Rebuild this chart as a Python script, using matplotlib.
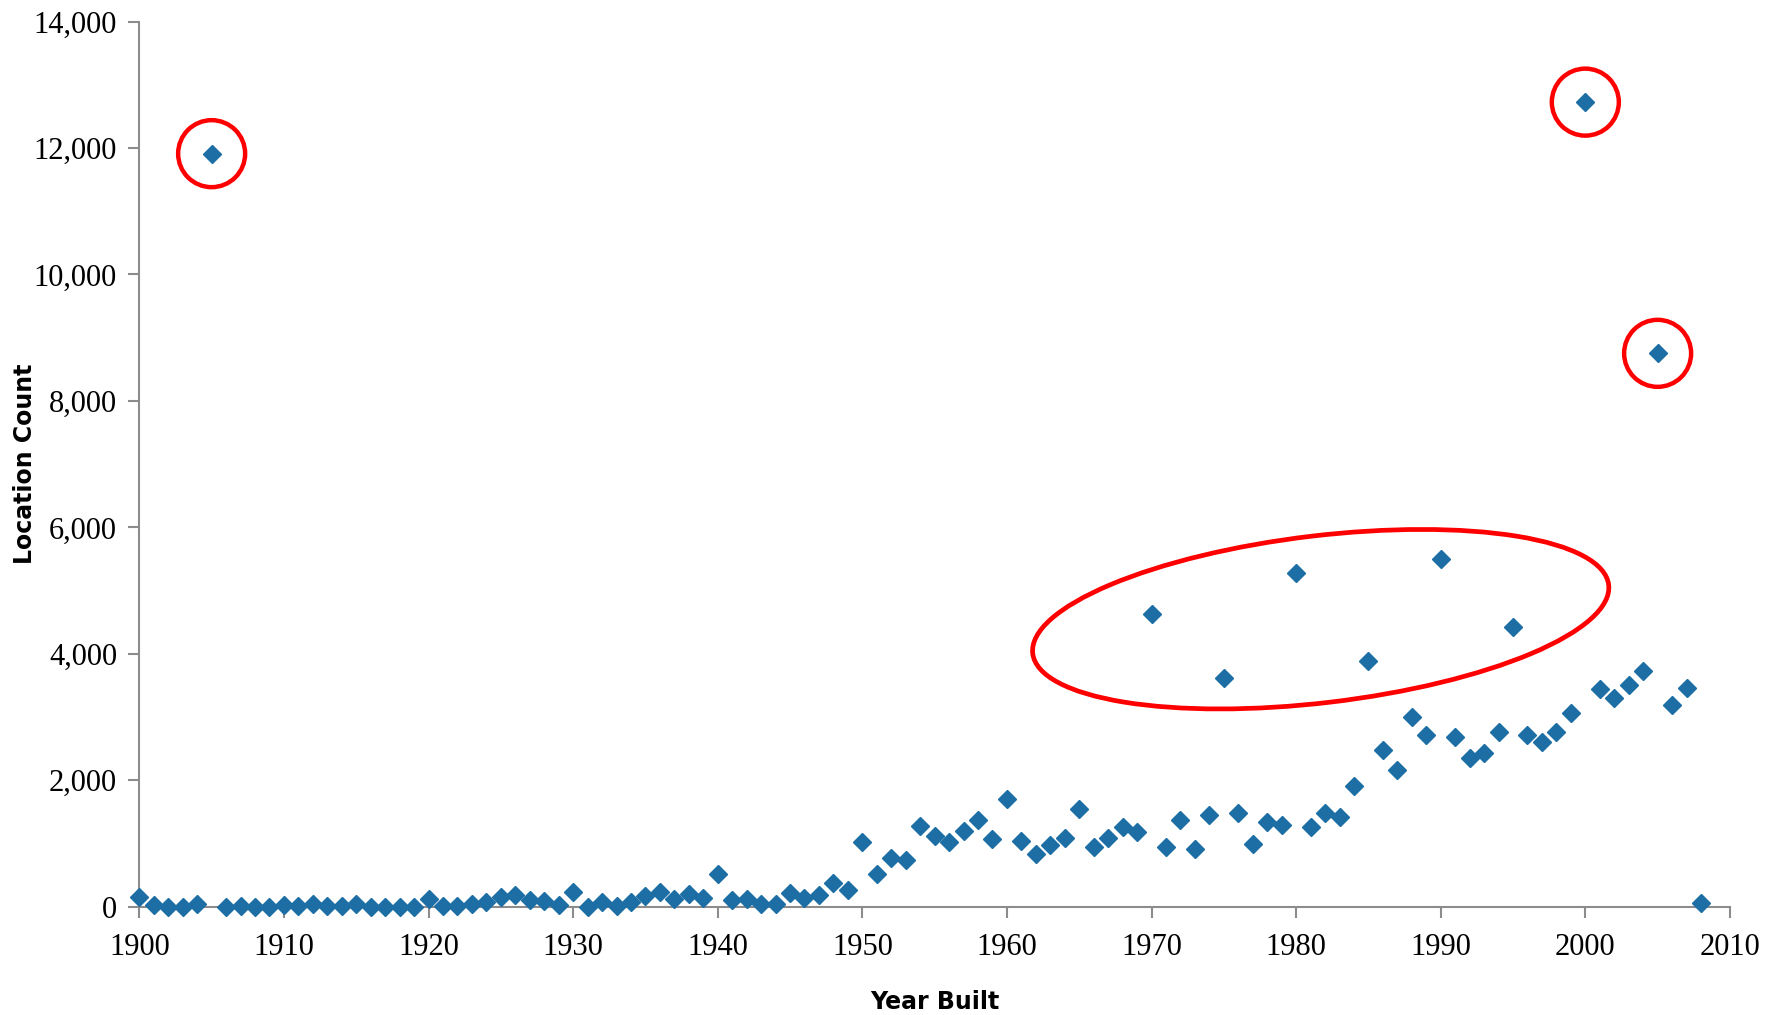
import numpy as np
import matplotlib
matplotlib.use("Agg")
import matplotlib.pyplot as plt
from matplotlib.patches import Ellipse, Circle
from matplotlib.transforms import ScaledTranslation
from matplotlib.ticker import FuncFormatter

# location counts per year built
years = np.arange(1900, 2009)
counts = [
    150, 20, 0, 0, 40, 11910, 0, 15, 0, 0,          # 1900-1909
    25, 10, 40, 10, 10, 40, 0, 0, 0, 0,             # 1910-1919
    120, 15, 15, 40, 70, 150, 185, 105, 95, 20,     # 1920-1929
    235, 0, 80, 15, 75, 170, 232, 116, 206, 132,    # 1930-1939
    522, 100, 116, 47, 37, 211, 132, 185, 369, 258, # 1940-1949
    1023, 511, 775, 733, 1276, 1118, 1028, 1197, 1376, 1075,   # 1950-1959
    1708, 1038, 838, 970, 1081, 1545, 940, 1086, 1265, 1186,   # 1960-1969
    4637, 938, 1376, 907, 1455, 3616, 1481, 991, 1344, 1297,   # 1970-1979
    5271, 1265, 1481, 1423, 1914, 3890, 2478, 2161, 3005, 2720, # 1980-1989
    5499, 2678, 2351, 2430, 2757, 4430, 2712, 2610, 2760, 3065, # 1990-1999
    12725, 3437, 3305, 3506, 3732, 8752, 3189, 3453, 53,        # 2000-2008
]
counts = np.array(counts)

# points that the original marks with red rings / the ellipse
circled_years = [1905, 2000, 2005]
ellipse_years = [1970, 1975, 1980, 1985, 1990, 1995]

blue = '#1C6EA4'
grey = '#8C8C8C'

fig = plt.figure(figsize=(17.75, 10.15), dpi=100)
ax = fig.add_axes([0.0785, 0.1067, 0.8961, 0.8721])

ax.plot(years, counts, linestyle='none', marker='D', ms=9.5,
        color=blue, mec=blue, clip_on=False, zorder=3)

ax.set_xlim(1900, 2010)
ax.set_ylim(0, 14000)
ax.set_xticks(np.arange(1900, 2011, 10))
ax.set_yticks(np.arange(0, 14001, 2000))
ax.yaxis.set_major_formatter(FuncFormatter(lambda v, p: f'{int(v):,}'))

for s in ['top', 'right']:
    ax.spines[s].set_visible(False)
for s in ['left', 'bottom']:
    ax.spines[s].set_color(grey)
    ax.spines[s].set_linewidth(1.5)

ax.tick_params(axis='both', direction='out', length=8, width=1.5, color=grey,
               labelsize=22, labelcolor='black')
ax.tick_params(axis='x', pad=11)
ax.tick_params(axis='y', pad=8)
for lab in ax.get_xticklabels() + ax.get_yticklabels():
    lab.set_family('Liberation Serif')

ax.set_xlabel('Year Built', fontsize=17, fontweight='bold', family='DejaVu Sans',
              va='center')
ax.set_ylabel('Location Count', fontsize=17, fontweight='bold', family='DejaVu Sans',
              va='center')
ax.xaxis.set_label_coords(0.5, -0.108)
ax.yaxis.set_label_coords(-0.0717, 0.5)

# red rings, sized in inches so they stay round
for yr in circled_years:
    v = counts[years == yr][0]
    tr = fig.dpi_scale_trans + ScaledTranslation(yr, v, ax.transData)
    ax.add_patch(Circle((0, 0), radius=0.335, fill=False, ec='red',
                        lw=3.2, transform=tr, clip_on=False, zorder=4))

sel = np.isin(years, ellipse_years)
cx = years[sel].mean() - 0.8
cy = counts[sel].mean() - 10
tr = fig.dpi_scale_trans + ScaledTranslation(cx, cy, ax.transData)
ax.add_patch(Ellipse((0, 0), width=5.80, height=1.67, angle=6.8, fill=False,
                     ec='red', lw=3.4, transform=tr, clip_on=False, zorder=4))

plt.savefig('out.png', dpi=100)
